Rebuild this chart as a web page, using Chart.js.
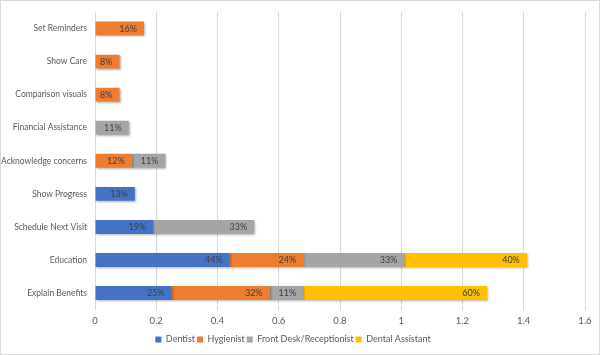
<!DOCTYPE html>
<html><head><meta charset="utf-8">
<script src="https://cdn.jsdelivr.net/npm/chart.js@4"></script>
<style>
html,body{margin:0;padding:0;background:#fff;}
#wrap{width:598px;height:353px;border:1px solid #d9d9d9;}
</style></head>
<body><div id="wrap"><canvas id="c" width="598" height="353"></canvas></div>
<script>
const categories = ["Set Reminders","Show Care","Comparison visuals","Financial Assistance","Acknowledge concerns","Show Progress","Schedule Next Visit","Education","Explain Benefits"];
const dentist      = [null,null,null,null,null,0.13,0.19,0.44,0.25];
const hygienist    = [0.16,0.08,0.08,null,0.12,null,null,0.24,0.32];
const frontDesk    = [null,null,null,0.11,0.11,null,0.33,0.33,0.11];
const dentalAsst   = [null,null,null,null,null,null,null,0.40,0.60];
const xTicks = [0,0.2,0.4,0.6,0.8,1,1.2,1.4,1.6];

const FONT = "Lato, 'Liberation Sans', sans-serif";

const shadowPlugin = {
  id:'shadow',
  beforeDatasetsDraw(chart){const c=chart.ctx;c.save();c.shadowColor='rgba(0,0,0,0.3)';c.shadowBlur=2;c.shadowOffsetX=1;c.shadowOffsetY=1;},
  afterDatasetsDraw(chart){chart.ctx.restore();}
};
const labelPlugin = {
  id:'vlabels',
  afterDatasetsDraw(chart){
    const c=chart.ctx;c.save();
    c.font="9px "+FONT;c.fillStyle="#404040";c.textAlign="right";c.textBaseline="middle";
    chart.data.datasets.forEach((ds,i)=>{
      const meta=chart.getDatasetMeta(i);
      meta.data.forEach((el,j)=>{
        const v=ds.data[j];
        if(v==null) return;
        c.fillText(Math.round(v*100)+"%", el.x-7, el.y+0.5);
      });
    });
    c.restore();
  }
};

new Chart(document.getElementById('c'),{
  type:'bar',
  data:{labels:categories,datasets:[
    {label:'Dentist',data:dentist,backgroundColor:'#4472C4'},
    {label:'Hygienist',data:hygienist,backgroundColor:'#ED7D31'},
    {label:'Front Desk/Receptionist',data:frontDesk,backgroundColor:'#A5A5A5'},
    {label:'Dental Assistant',data:dentalAsst,backgroundColor:'#FFC000'}
  ]},
  options:{
    indexAxis:'y',responsive:false,animation:false,
    layout:{padding:{top:11,right:14,left:0,bottom:0}},
    datasets:{bar:{barPercentage:0.42,categoryPercentage:1}},
    plugins:{
      legend:{position:'bottom',labels:{boxWidth:6,boxHeight:6,padding:2,color:'#595959',font:{family:FONT,size:9}}},
      tooltip:{enabled:false}
    },
    scales:{
      x:{stacked:true,min:0,max:1.6,
        afterBuildTicks(s){s.ticks=xTicks.map(v=>({value:v}));},
        ticks:{color:'#595959',font:{family:FONT,size:9.5},padding:6,callback:(v)=>String(Math.round(v*10)/10)},
        grid:{color:'#d9d9d9',drawTicks:false},border:{display:false}},
      y:{stacked:true,
        afterFit(s){s.width=94;s.paddingTop=0;s.paddingBottom=0;},
        ticks:{color:'#595959',font:{family:FONT,size:8.5},padding:8},
        grid:{display:false,drawTicks:false},border:{display:false}}
    }
  },
  plugins:[shadowPlugin,labelPlugin]
});
</script></body></html>
